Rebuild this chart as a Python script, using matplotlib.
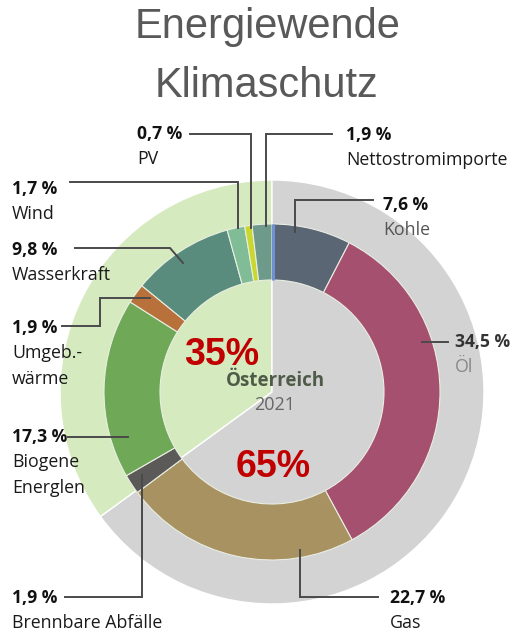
import matplotlib

matplotlib.use("Agg")
import matplotlib.pyplot as plt
import numpy as np

# Outer disk: renewable vs fossil share
share_labels = ["Erneuerbar", "Fossil"]
share_values = [35, 65]
share_text = ["35%", "65%"]

# Inner ring, clockwise from 12 o'clock
sources = ["Kohle", "Öl", "Gas", "Brennbare Abfälle", "Biogene\nEnerglen",
           "Umgeb.-\nwärme", "Wasserkraft", "Wind", "PV", "Nettostromimporte"]
shares = [7.6, 34.5, 22.7, 1.9, 17.3, 1.9, 9.8, 1.7, 0.7, 1.9]
share_strings = ["7,6 %", "34,5 %", "22,7 %", "1,9 %", "17,3 %",
                 "1,9 %", "9,8 %", "1,7 %", "0,7 %", "1,9 %"]

W, H = 516, 634
CX, CY = 272, 392
R_OUT, R_RING, R_IN = 212, 168, 112

ring_colors = ["#5b6674", "#a5506e", "#a89262", "#5c5a58", "#6fa856",
               "#b8713a", "#5a8c7d", "#80bd97", "#c9d72e", "#6e9a8b"]
disk_colors = ["#d5ebbf", "#d3d3d3"]

# label layout in pixel coords: text x, text y (value line), leader path
layout = {
    "Kohle": (383, 205, [(373, 200), (295, 200), (295, 232)]),
    "Öl": (455, 342, [(448, 342), (422, 342)]),
    "Gas": (390, 598, [(378, 597), (300, 597), (300, 550)]),
    "Brennbare Abfälle": (12, 598, [(65, 597), (142, 597), (142, 475)]),
    "Biogene\nEnerglen": (12, 437, [(68, 437), (128, 437)]),
    "Umgeb.-\nwärme": (12, 328, [(62, 326), (100, 326), (100, 298), (150, 298)]),
    "Wasserkraft": (12, 250, [(75, 248), (170, 248), (183, 263)]),
    "Wind": (12, 189, [(70, 182), (238, 182), (238, 228)]),
    "PV": (137, 134, [(190, 134), (251, 134), (251, 228)]),
    "Nettostromimporte": (346, 135, [(332, 134), (266, 134), (266, 226)]),
}
name_colors = {"Kohle": "#555555", "Öl": "#888888"}
value_colors = {"Öl": "#333333"}


def fy(y):
    return H - y


fig = plt.figure(figsize=(W / 100, H / 100), dpi=100)
ax = fig.add_axes([0, 0, 1, 1])

ax.pie(share_values, colors=disk_colors, startangle=90, counterclock=True,
       radius=R_OUT, center=(CX, fy(CY)),
       wedgeprops=dict(edgecolor="white", linewidth=1.0))
ax.pie(shares, colors=ring_colors, startangle=90, counterclock=False,
       radius=R_RING, center=(CX, fy(CY)),
       wedgeprops=dict(width=R_RING - R_IN, edgecolor="#e9eee2", linewidth=0.8))

# thin blue seam where the ring closes
theta = np.deg2rad(90 - 3.6 * sum(shares))
ax.plot([CX + R_IN * np.cos(theta) + 1, CX + R_RING * np.cos(theta) + 1],
        [fy(CY) + R_IN * np.sin(theta), fy(CY) + R_RING * np.sin(theta)],
        color="#6f90d2", lw=2.2, solid_capstyle="butt")

lab_font = "Open Sans"
for name, val in zip(sources, share_strings):
    tx, ty, path = layout[name]
    xs = [p[0] for p in path]
    ys = [fy(p[1]) for p in path]
    ax.plot(xs, ys, color="#4a4a4a", lw=1.4, solid_joinstyle="miter")
    ax.text(tx, fy(ty), val, fontsize=12.6, fontweight="bold", family=lab_font,
            color=value_colors.get(name, "#111111"), ha="left", va="center")
    for i, line in enumerate(name.split("\n")):
        ax.text(tx, fy(ty + 25 + 26 * i), line, fontsize=12.8, family=lab_font,
                color=name_colors.get(name, "#1a1a1a"), ha="left", va="center")

ax.text(222, fy(355), share_text[0], fontsize=27, fontweight="bold",
        family="Liberation Sans", color="#c00000", ha="center", va="center")
ax.text(273, fy(467), share_text[1], fontsize=27, fontweight="bold",
        family="Liberation Sans", color="#c00000", ha="center", va="center")
ax.text(275, fy(381), "Österreich", fontsize=13.5, fontweight="bold",
        family=lab_font, color="#4f5b48", ha="center", va="center")
ax.text(275, fy(405), "2021", fontsize=13, family=lab_font,
        color="#666666", ha="center", va="center")

ax.text(268, fy(38), "Energiewende", fontsize=30, family="Liberation Sans",
        color="#595959", ha="center", va="baseline")
ax.text(266, fy(97), "Klimaschutz", fontsize=30, family="Liberation Sans",
        color="#595959", ha="center", va="baseline")

ax.set_xlim(0, W)
ax.set_ylim(0, H)
ax.set_aspect("equal")
ax.set_axis_off()

fig.savefig("out.png", dpi=100)
